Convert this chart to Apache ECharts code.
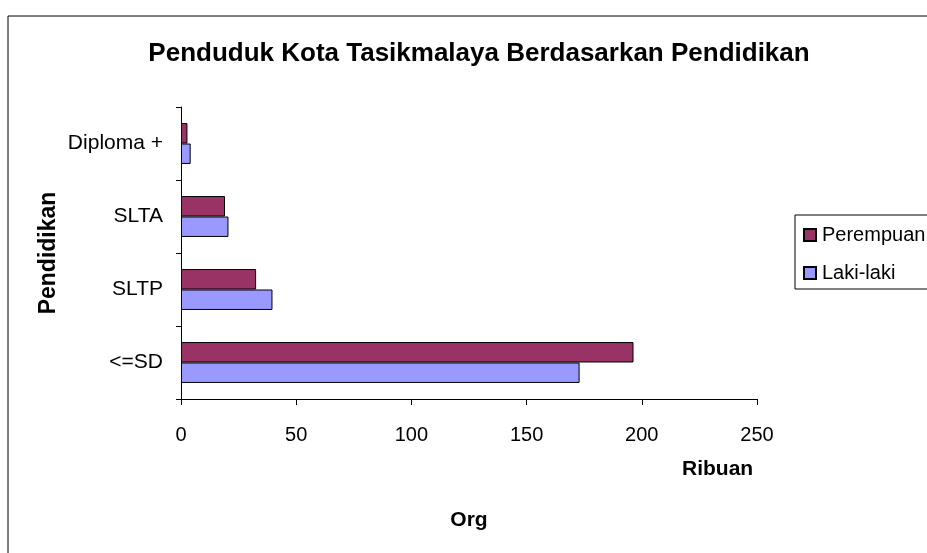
<!DOCTYPE html>
<html>
<head>
<meta charset="utf-8">
<script src="https://cdn.jsdelivr.net/npm/echarts@6/dist/echarts.min.js"></script>
<style>html,body{margin:0;padding:0;background:#fff}#c{width:927px;height:553px}</style>
</head>
<body>
<div id="c"></div>
<script>
const categories = ['<=SD', 'SLTP', 'SLTA', 'Diploma +'];
const perempuan = [196.4, 32.6, 19.1, 2.8];
const lakiLaki = [173.0, 39.7, 20.6, 4.2];
const xTicks = { min: 0, max: 250, interval: 50 };

const F = '"Liberation Sans", Arial, sans-serif';
const chart = echarts.init(document.getElementById('c'));
chart.setOption({
  animation: false,
  backgroundColor: '#fff',
  title: {
    text: 'Penduduk Kota Tasikmalaya Berdasarkan Pendidikan',
    left: 474, top: 36, textAlign: 'center',
    textStyle: { fontFamily: F, fontWeight: 'bold', fontSize: 26, color: '#000' }
  },
  legend: {
    data: ['Perempuan', 'Laki-laki'],
    orient: 'vertical',
    left: 795, top: 215,
    padding: [10, 40, 6, 8],
    itemGap: 18,
    itemWidth: 12, itemHeight: 12,
    borderColor: '#000', borderWidth: 1,
    icon: 'rect',
    textStyle: { fontFamily: F, fontSize: 20, color: '#000', padding: [0, 0, 0, 1] }
  },
  grid: { left: 181, right: 170, top: 107, bottom: 154, containLabel: false },
  xAxis: {
    type: 'value', min: xTicks.min, max: xTicks.max, interval: xTicks.interval,
    name: 'Org', nameLocation: 'middle', nameGap: 111, nameMoveOverlap: false,
    nameTextStyle: { fontFamily: F, fontWeight: 'bold', fontSize: 21, color: '#000' },
    axisLine: { show: true, lineStyle: { color: '#000', width: 1 } },
    axisTick: { show: true, length: 6, lineStyle: { color: '#000' } },
    axisLabel: { fontFamily: F, fontSize: 20, color: '#000', margin: 26 },
    splitLine: { show: false }
  },
  yAxis: {
    type: 'category', data: categories,
    name: 'Pendidikan', nameLocation: 'middle', nameGap: 121, nameRotate: 90, nameMoveOverlap: false,
    nameTextStyle: { fontFamily: F, fontWeight: 'bold', fontSize: 23, color: '#000' },
    axisLine: { show: true, lineStyle: { color: '#000', width: 1 } },
    axisTick: { show: true, length: 5, lineStyle: { color: '#000' } },
    axisLabel: { fontFamily: F, fontSize: 21, color: '#000', margin: 18 }
  },
  series: [
    { name: 'Perempuan', type: 'bar', data: perempuan, barGap: 0, barCategoryGap: '44%',
      itemStyle: { color: '#993366', borderColor: '#000', borderWidth: 1 } },
    { name: 'Laki-laki', type: 'bar', data: lakiLaki, barGap: 0, barCategoryGap: '44%',
      itemStyle: { color: '#9999FF', borderColor: '#000', borderWidth: 1 } }
  ],
  graphic: [
    { type: 'rect', left: 5.5, top: 13.5, shape: { width: 940, height: 560 }, silent: true,
      style: { fill: 'none', stroke: '#000', lineWidth: 1 }, z: -1 },
    { type: 'text', left: 682, top: 459, style: { text: 'Ribuan', fontFamily: F, fontWeight: 'bold', fontSize: 21, fill: '#000' } }
  ]
});
</script>
</body>
</html>
